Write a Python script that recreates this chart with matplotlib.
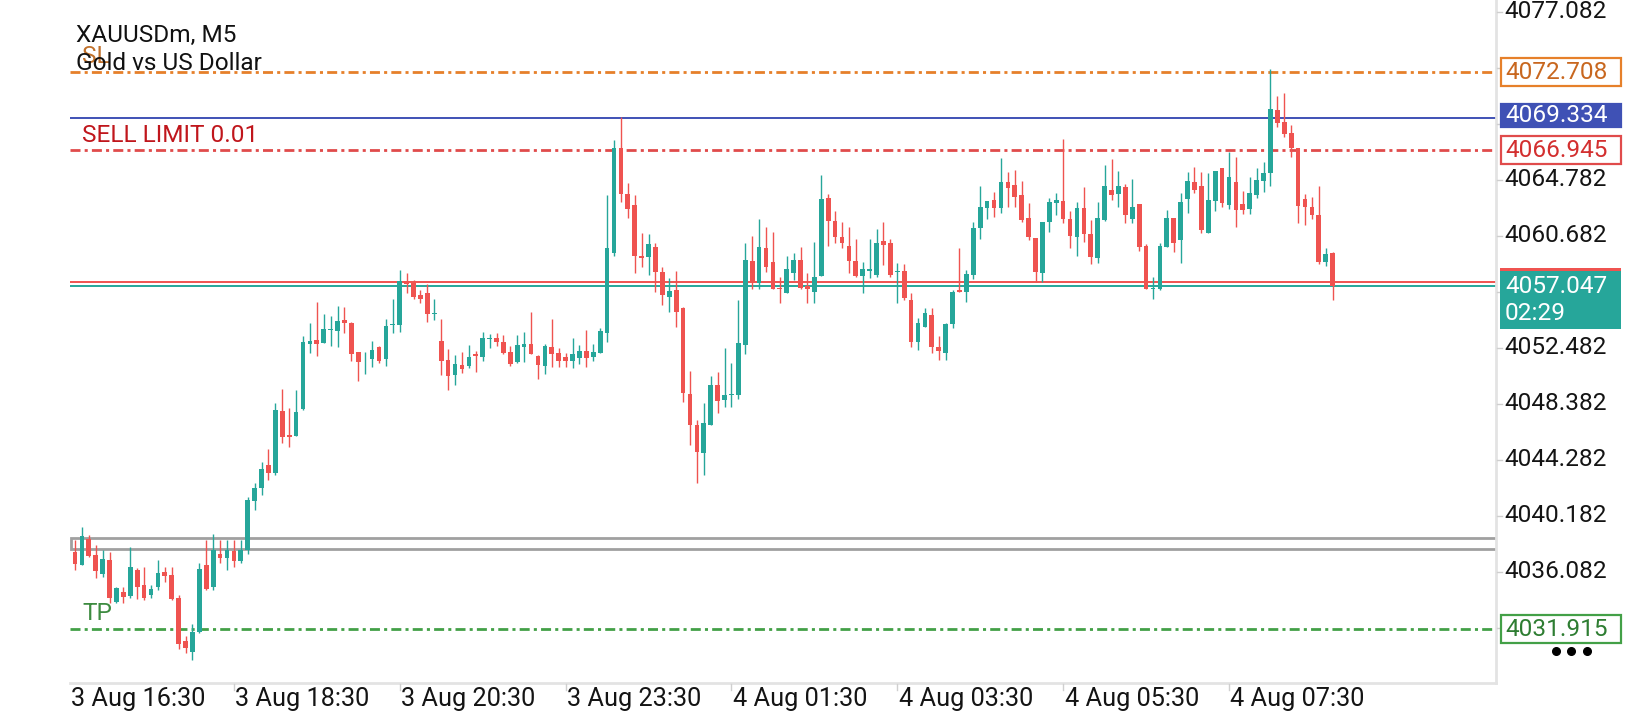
import matplotlib
matplotlib.use('Agg')
import matplotlib.pyplot as plt
from matplotlib.patches import Rectangle
import numpy as np

plt.rcParams['font.family'] = ['Roboto', 'DejaVu Sans']

# ---------------- data ----------------
opens = [4037.55, 4036.57, 4038.45, 4037.30, 4035.91, 4036.94, 4033.88, 4034.62, 4034.30, 4036.20,
         4035.10, 4034.37, 4034.93, 4036.06, 4035.84, 4034.13, 4031.00, 4030.20, 4031.69, 4036.57,
         4034.99, 4037.38, 4037.11, 4037.62, 4036.89, 4037.67, 4041.28, 4042.25, 4043.89, 4043.28,
         4047.85, 4046.09, 4046.04, 4047.97, 4052.75, 4053.05, 4052.85, 4053.78, 4053.73, 4054.51,
         4054.32, 4052.14, 4051.48, 4051.63, 4052.56, 4051.68, 4054.12, 4054.15, 4057.35, 4057.25,
         4056.35, 4056.47, 4054.93, 4052.98, 4051.59, 4050.49, 4051.22, 4051.15, 4052.03, 4051.83,
         4053.15, 4053.18, 4052.91, 4052.20, 4051.47, 4052.57, 4052.76, 4051.88, 4051.15, 4052.57,
         4052.13, 4051.83, 4051.54, 4051.71, 4052.27, 4051.83, 4052.12, 4053.59, 4059.45, 4067.10,
         4063.75, 4062.94, 4059.21, 4059.11, 4059.89, 4058.01, 4056.23, 4056.72, 4055.37, 4049.10,
         4046.83, 4044.80, 4046.83, 4049.76, 4048.66, 4049.02, 4049.03, 4052.69, 4058.87, 4057.26,
         4059.77, 4058.77, 4056.90, 4056.47, 4057.99, 4058.92, 4057.01, 4056.60, 4057.74, 4063.43,
         4061.77, 4060.58, 4059.94, 4058.87, 4057.74, 4058.13, 4057.82, 4060.31, 4060.14, 4058.00,
         4058.11, 4055.99, 4052.93, 4054.03, 4054.89, 4052.57, 4052.13, 4054.23, 4056.72, 4056.60,
         4057.82, 4061.24, 4062.70, 4063.31, 4062.70, 4064.65, 4064.41, 4063.68, 4061.97, 4060.55,
         4057.99, 4061.72, 4063.07, 4063.26, 4061.92, 4060.62, 4062.75, 4060.82, 4059.08, 4061.84,
         4064.04, 4063.75, 4064.29, 4061.92, 4063.00, 4059.94, 4056.77, 4056.77, 4059.84, 4061.97,
         4060.38, 4063.36, 4064.65, 4064.34, 4060.92, 4063.26, 4065.63, 4062.94, 4064.65, 4063.02,
         4062.65, 4063.67, 4064.72, 4065.31, 4069.90, 4069.05, 4068.24, 4067.09, 4063.37, 4062.78,
         4062.20, 4058.80, 4059.42]
highs = [4038.40, 4039.38, 4038.77, 4038.04, 4037.67, 4037.55, 4034.98, 4034.98, 4037.86, 4036.33,
         4036.45, 4035.10, 4036.94, 4036.45, 4036.40, 4034.40, 4031.37, 4032.25, 4036.70, 4038.40,
         4038.84, 4038.40, 4038.40, 4038.40, 4038.40, 4041.55, 4042.55, 4044.13, 4045.04, 4048.41,
         4049.43, 4048.04, 4049.38, 4053.34, 4054.32, 4055.86, 4054.95, 4054.80, 4055.54, 4055.44,
         4054.39, 4052.20, 4052.17, 4053.00, 4052.61, 4054.56, 4056.03, 4058.17, 4057.93, 4057.45,
         4056.72, 4057.16, 4056.06, 4054.57, 4052.37, 4051.96, 4052.20, 4052.69, 4052.27, 4053.62,
         4053.49, 4053.59, 4053.42, 4052.61, 4053.42, 4053.62, 4055.13, 4051.96, 4052.76, 4054.59,
         4052.44, 4052.08, 4053.18, 4052.69, 4053.79, 4052.76, 4053.91, 4063.68, 4067.70, 4069.36,
         4064.53, 4063.68, 4060.92, 4060.82, 4060.14, 4058.42, 4057.57, 4058.13, 4055.49, 4050.81,
         4047.19, 4048.46, 4050.42, 4050.73, 4052.45, 4051.40, 4055.99, 4060.19, 4060.68, 4061.90,
         4061.31, 4060.99, 4057.70, 4059.21, 4059.40, 4059.89, 4057.94, 4060.26, 4065.14, 4063.75,
         4062.51, 4061.68, 4061.31, 4060.43, 4058.79, 4060.43, 4061.19, 4061.72, 4060.43, 4058.67,
         4058.60, 4056.47, 4054.64, 4055.38, 4055.38, 4053.35, 4054.33, 4056.72, 4059.77, 4058.18,
         4061.72, 4064.34, 4063.26, 4063.92, 4066.36, 4065.34, 4065.51, 4064.70, 4063.12, 4060.55,
         4061.72, 4063.43, 4063.80, 4067.78, 4062.50, 4063.19, 4064.29, 4061.84, 4063.19, 4065.87,
         4066.29, 4065.43, 4064.48, 4064.85, 4063.00, 4060.06, 4057.65, 4060.19, 4062.58, 4061.97,
         4063.85, 4065.38, 4065.75, 4065.38, 4065.26, 4065.43, 4065.63, 4066.85, 4066.48, 4063.99,
         4064.97, 4065.63, 4066.12, 4072.88, 4070.93, 4071.12, 4068.80, 4067.09, 4063.78, 4063.50,
         4064.30, 4059.80, 4059.50]
lows = [4036.20, 4036.57, 4037.18, 4035.59, 4035.67, 4033.76, 4033.76, 4033.76, 4034.13, 4034.06,
        4034.00, 4034.13, 4034.74, 4035.35, 4034.00, 4030.40, 4030.10, 4029.60, 4031.60, 4034.74,
        4034.74, 4036.70, 4036.20, 4036.40, 4036.74, 4037.40, 4040.60, 4041.69, 4042.79, 4043.20,
        4045.48, 4045.23, 4046.00, 4047.90, 4052.12, 4051.87, 4052.80, 4052.61, 4052.51, 4053.54,
        4051.53, 4050.07, 4050.60, 4051.09, 4051.39, 4051.14, 4053.54, 4053.66, 4056.47, 4056.06,
        4055.79, 4054.40, 4054.52, 4050.49, 4049.39, 4049.76, 4050.66, 4050.98, 4050.73, 4051.54,
        4052.44, 4052.61, 4052.03, 4051.15, 4051.35, 4051.47, 4052.00, 4050.17, 4050.56, 4051.05,
        4051.05, 4051.05, 4050.98, 4051.30, 4051.10, 4051.54, 4052.10, 4052.93, 4059.21, 4063.19,
        4061.97, 4057.99, 4058.42, 4057.81, 4056.59, 4055.62, 4055.13, 4054.03, 4048.53, 4045.36,
        4042.60, 4043.20, 4046.80, 4047.73, 4048.17, 4048.17, 4048.71, 4052.03, 4056.77, 4056.77,
        4058.06, 4056.77, 4055.74, 4056.47, 4057.45, 4056.77, 4055.74, 4055.74, 4057.74, 4059.94,
        4060.19, 4059.77, 4057.99, 4057.70, 4056.47, 4057.57, 4057.69, 4058.55, 4057.65, 4055.74,
        4055.99, 4052.57, 4052.32, 4054.00, 4052.13, 4051.59, 4051.59, 4053.91, 4056.58, 4055.86,
        4057.50, 4060.43, 4061.90, 4062.09, 4062.33, 4062.77, 4062.77, 4061.72, 4060.38, 4057.33,
        4057.33, 4060.99, 4062.21, 4061.65, 4059.77, 4059.21, 4060.26, 4058.62, 4058.67, 4061.80,
        4063.31, 4062.82, 4061.60, 4061.65, 4059.60, 4056.77, 4056.03, 4056.72, 4059.84, 4059.52,
        4058.72, 4062.33, 4063.85, 4060.92, 4060.87, 4062.53, 4062.77, 4062.62, 4061.31, 4062.28,
        4062.28, 4063.43, 4063.92, 4064.34, 4068.68, 4067.95, 4066.48, 4061.65, 4061.48, 4061.90,
        4058.64, 4058.50, 4055.98]
closes = [4036.64, 4038.70, 4037.23, 4036.16, 4036.99, 4034.13, 4034.86, 4034.25, 4036.45, 4034.98,
          4034.13, 4034.81, 4035.96, 4035.77, 4034.06, 4030.80, 4030.50, 4031.69, 4036.26, 4034.79,
          4037.67, 4037.11, 4037.67, 4036.89, 4037.67, 4041.33, 4042.25, 4043.64, 4043.28, 4047.92,
          4045.97, 4045.97, 4047.75, 4052.92, 4053.00, 4052.75, 4053.83, 4053.85, 4054.44, 4054.32,
          4052.02, 4051.46, 4051.52, 4052.32, 4051.53, 4054.07, 4054.20, 4057.37, 4057.15, 4056.23,
          4056.06, 4054.93, 4055.01, 4051.54, 4050.44, 4051.30, 4050.93, 4051.78, 4051.88, 4053.18,
          4053.22, 4052.93, 4052.13, 4051.30, 4052.69, 4052.76, 4052.05, 4051.22, 4052.61, 4052.03,
          4051.54, 4051.54, 4052.03, 4052.27, 4051.71, 4052.20, 4053.74, 4059.77, 4067.10, 4063.75,
          4062.63, 4059.21, 4059.04, 4060.09, 4058.06, 4056.35, 4056.67, 4055.13, 4049.19, 4046.83,
          4044.87, 4047.00, 4049.76, 4048.61, 4049.03, 4049.05, 4052.86, 4058.92, 4057.26, 4059.84,
          4058.43, 4056.82, 4056.77, 4058.23, 4058.92, 4056.84, 4056.82, 4057.65, 4063.36, 4061.80,
          4060.63, 4060.19, 4058.87, 4057.74, 4058.23, 4058.25, 4060.14, 4060.02, 4057.82, 4058.11,
          4056.11, 4052.93, 4054.32, 4055.06, 4052.52, 4052.27, 4054.23, 4056.60, 4056.60, 4057.89,
          4061.29, 4062.77, 4063.24, 4062.70, 4064.65, 4064.17, 4063.56, 4061.85, 4060.58, 4058.06,
          4061.72, 4063.19, 4063.31, 4061.92, 4060.67, 4062.75, 4060.82, 4059.16, 4061.97, 4064.34,
          4063.67, 4064.34, 4062.21, 4062.77, 4059.89, 4056.80, 4056.89, 4059.94, 4061.97, 4060.19,
          4063.19, 4064.73, 4064.04, 4061.11, 4063.31, 4065.43, 4063.07, 4065.02, 4062.60, 4062.60,
          4063.85, 4064.77, 4065.31, 4069.95, 4068.97, 4068.14, 4067.09, 4062.89, 4062.78, 4062.20,
          4058.80, 4059.34, 4057.047]

time_labels = ['3 Aug 16:30', '3 Aug 18:30', '3 Aug 20:30', '3 Aug 23:30',
               '4 Aug 01:30', '4 Aug 03:30', '4 Aug 05:30', '4 Aug 07:30']
time_label_bars = [-1, 23, 47, 71, 95, 119, 143, 167]

price_ticks = [4077.082, 4072.982, 4068.882, 4064.782, 4060.682, 4056.582,
               4052.482, 4048.382, 4044.282, 4040.182, 4036.082, 4031.982]

sl_price = 4072.708
order_price = 4069.334
sell_limit_price = 4066.945
bid_price = 4057.047
ask_price = 4057.27
tp_price = 4031.915
zone_top = 4038.52
zone_bottom = 4037.72

symbol_text = 'XAUUSDm, M5'
description_text = 'Gold vs US Dollar'
sell_limit_text = 'SELL LIMIT 0.01'
countdown_text = '02:29'

# ---------------- styling ----------------
UP = '#26a69a'
DOWN = '#ef5350'
FS = 17.6
FS_TIME = 18.2
W, H = 1640, 720
L, R, T, B = 70, 1496, 0, 683
XMIN, XMAX = -0.72, 205.64
YMIN, YMAX = 4027.93, 4077.96

fig = plt.figure(figsize=(W / 100, H / 100), dpi=100)
fig.patch.set_facecolor('white')
ax = fig.add_axes([L / W, 1 - B / H, (R - L) / W, (B - T) / H])
ax.set_xlim(XMIN, XMAX)
ax.set_ylim(YMIN, YMAX)
ax.set_xticks([])
ax.set_yticks([])
for s in ['left', 'top']:
    ax.spines[s].set_visible(False)
for s in ['right', 'bottom']:
    ax.spines[s].set_color('#e3e3e3')
    ax.spines[s].set_linewidth(2.0)

O = np.array(opens); Hh = np.array(highs); Lw = np.array(lows); C = np.array(closes)
x = np.arange(len(O))
cols = np.where(C >= O, UP, DOWN)

# level lines
dashdot = (0, (3.6, 1.5, 1.1, 1.5))
ax.axhline(sl_price, color='#e6802a', lw=2.0, linestyle=dashdot, zorder=1)
ax.axhline(order_price, color='#3f51b5', lw=1.4, zorder=1)
ax.axhline(sell_limit_price, color='#e04b4b', lw=2.0, linestyle=dashdot, zorder=1)
ax.axhline(ask_price, color=DOWN, lw=1.4, zorder=1)
ax.axhline(bid_price, color=UP, lw=1.4, zorder=1)
ax.axhline(tp_price, color='#43a047', lw=2.0, linestyle=dashdot, zorder=1)
ax.add_patch(Rectangle((XMIN + 0.1, zone_bottom), XMAX - XMIN, zone_top - zone_bottom,
                       facecolor='none', edgecolor='#a0a0a0', lw=2.0, zorder=1))

# candles
ax.vlines(x, Lw, Hh, colors=cols, lw=1.0, zorder=3)
ax.bar(x, np.maximum(np.abs(C - O), 0.07), bottom=np.minimum(O, C), width=0.68,
       color=cols, linewidth=0, zorder=4)

# ---------------- overlay in pixel coordinates ----------------
ov = fig.add_axes([0, 0, 1, 1], zorder=5)
ov.set_xlim(0, W)
ov.set_ylim(H, 0)
ov.axis('off')
ov.patch.set_alpha(0)


def py(p):
    return T + (B - T) * (YMAX - p) / (YMAX - YMIN)


def px(i):
    return L + (i - XMIN) / (XMAX - XMIN) * (R - L)


box_levels = [sl_price, order_price, bid_price, tp_price]

# price scale
for p in price_ticks:
    ov.plot([1497, 1502], [py(p), py(p)], color='#cfcfcf', lw=1, zorder=1)
    if min(abs(py(p) - py(lv)) for lv in box_levels) < 20:
        continue  # covered by a price tag
    ov.text(1504, py(p), f'{p:.3f}', va='center', ha='left', fontsize=FS,
            color='#141414', zorder=2)


def price_box(y0, y1, face, edge, tcolor, text):
    ov.add_patch(Rectangle((1501, y0), 120, y1 - y0, facecolor=face, edgecolor=edge,
                           lw=1.6, zorder=3))
    ov.text(1505, (y0 + y1) / 2 + 0.5, text, va='center', ha='left', fontsize=FS,
            color=tcolor, zorder=4)


yc = py(sl_price)
price_box(yc - 14, yc + 14, 'white', '#e6802a', '#c8671f', f'{sl_price:.3f}')
yc = py(order_price)
price_box(yc - 14, yc + 9, '#3f51b5', '#3f51b5', 'white', f'{order_price:.3f}')
yc = py(sell_limit_price)
price_box(yc - 14, yc + 14, 'white', '#e04b4b', '#d32f2f', f'{sell_limit_price:.3f}')
yc = py(tp_price)
price_box(yc - 14, yc + 14, 'white', '#43a047', '#2e7d32', f'{tp_price:.3f}')

# ask (hidden behind) + bid box
ya = py(ask_price)
ov.add_patch(Rectangle((1500, ya - 14.5), 121, 28, facecolor=DOWN, edgecolor='none', zorder=3))
yb = py(bid_price)
ov.add_patch(Rectangle((1500, yb - 14.5), 121, 57.5, facecolor=UP, edgecolor='none', zorder=3.5))
ov.text(1505, yb + 1, f'{bid_price:.3f}', va='center', ha='left', fontsize=FS, color='white', zorder=4)
ov.text(1505, yb + 28, countdown_text, va='center', ha='left', fontsize=FS, color='white', zorder=4)

# time scale
for lbl, b in zip(time_labels, time_label_bars):
    xt = px(b)
    if xt >= L:
        ov.plot([xt, xt], [B + 1, B + 7], color='#cfcfcf', lw=1, zorder=1)
    ov.text(max(xt, L) + 1.5, 699, lbl, va='center', ha='left', fontsize=FS_TIME, color='#141414')

# chart texts (the SL tag sits partly under the description, as in the original)
ov.text(82, 63, 'SL', va='baseline', ha='left', fontsize=FS, color='#c0702a', zorder=1)
ov.text(76, 41.7, symbol_text, va='baseline', ha='left', fontsize=FS, color='#111111', zorder=2)
ov.text(76, 70.5, description_text, va='baseline', ha='left', fontsize=FS, color='#111111', zorder=2)
ov.text(82.5, 141.7, sell_limit_text, va='baseline', ha='left', fontsize=FS, color='#c0161c')
ov.text(82.5, 620, 'TP', va='baseline', ha='left', fontsize=FS, color='#3d8b40')

# menu dots
ov.plot([1556, 1571, 1587], [651, 651, 651], 'o', color='black', ms=5.5, zorder=2)

fig.savefig('out.png', dpi=100, facecolor='white')
